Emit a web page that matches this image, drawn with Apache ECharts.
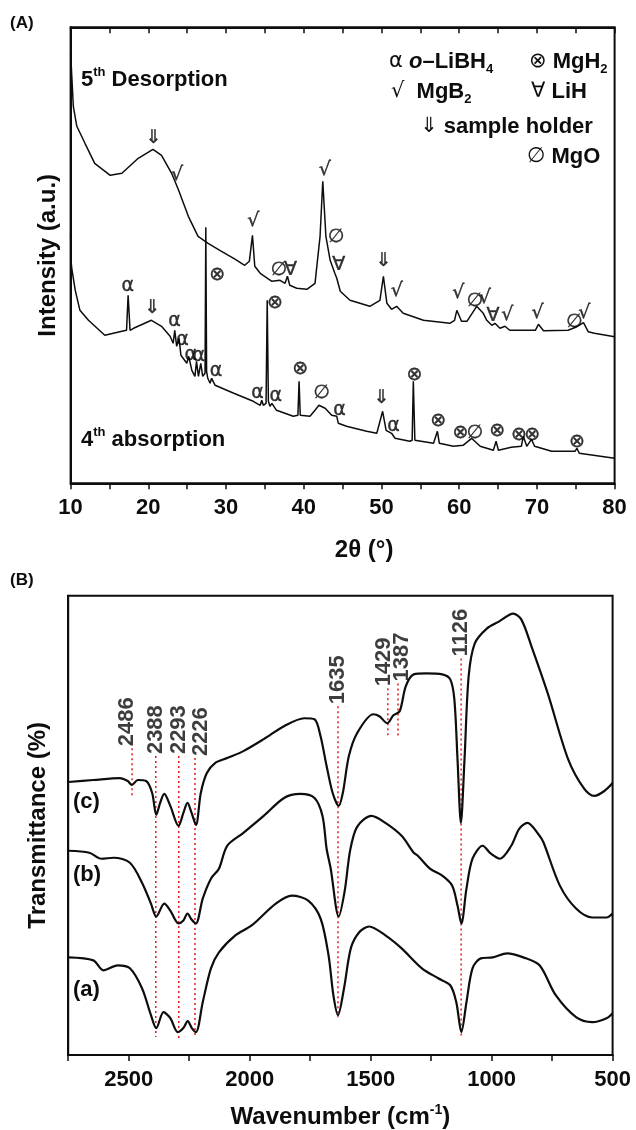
<!DOCTYPE html>
<html><head><meta charset="utf-8">
<script src="https://cdn.jsdelivr.net/npm/echarts@6/dist/echarts.min.js"></script>
<style>html,body{margin:0;padding:0;background:#fff}#c{width:636px;height:1130px}</style>
</head><body><div id="c"></div>
<script>
// ---------- (A) XRD data: [2theta, intensity a.u.] ----------
const xrdDesorption = [[10.0,430],[10.05,423],[10.35,377],[10.8,357],[11.85,340],[13.1,320],[15.1,308],[16.6,310],[18.7,325],[20.6,334],[21.7,328],[23.0,310],[23.9,293],[25.15,267],[26.4,247],[27.7,240],[29.2,233],[31.2,224],[32.4,218],[33.0,222],[33.4,248],[33.7,217],[34.4,210],[35.9,202],[36.95,203],[37.6,200],[37.9,207],[38.2,198],[39.1,195],[40.4,194],[41.45,200],[42.1,247],[42.45,302],[42.85,247],[43.4,223],[44.0,210],[44.25,205],[44.7,192],[45.95,183],[48.5,177],[49.8,183],[50.25,207],[50.7,180],[51.3,174],[51.95,177],[52.8,170],[55.4,163],[58.8,160],[59.4,163],[59.7,173],[60.3,162],[61.0,162],[62.25,177],[63.1,170],[63.55,163],[64.2,158],[64.6,160],[65.25,155],[65.9,157],[66.5,153],[68.25,153],[69.8,153],[70.2,159],[70.85,152.6],[74.0,153],[75.0,156],[76.0,160.6],[76.6,151.6],[77.4,150],[80,146.6]];
const xrdAbsorption = [[10.0,250],[10.05,223],[10.15,215],[10.6,193],[11.2,173],[12.3,163],[14.4,148],[16.6,152],[17.2,153],[17.4,188],[17.65,153],[18.1,155],[20.4,163],[21.7,157],[22.8,147],[23.2,140],[23.4,153],[23.65,137],[23.95,145],[24.2,128],[24.95,120],[25.2,127],[25.6,113],[26.0,107],[26.2,122],[26.45,107],[26.75,120],[27.0,107],[27.3,110],[27.4,256],[27.5,112],[27.65,105],[27.95,100],[28.15,105],[28.6,98],[31.0,90],[33.5,82],[34.4,78],[34.6,83],[34.8,78],[35.15,80],[35.3,183],[35.45,82],[35.65,77],[35.9,80],[36.5,73],[38.65,67],[39.25,68],[39.4,102],[39.55,68],[39.75,67],[40.8,67],[41.45,73],[41.95,78],[42.75,75],[43.6,68],[44.25,67],[44.45,60],[45.5,57],[48.1,52],[49.4,50],[50.15,72],[50.6,53],[51.3,50],[51.75,45],[53.65,42],[53.95,43],[54.1,102],[54.3,43],[54.45,42],[56.7,40],[57.2,52],[57.45,40],[59.25,37],[60.5,38],[61.6,45],[62.7,37],[64.4,33],[64.75,42],[65.05,33],[66.7,36],[68.0,37],[68.25,47],[68.7,37],[69.3,44],[69.7,37],[71.9,32],[74.9,32],[75.15,35],[75.45,30],[80,25]];
// phase markers: [2theta, intensity, symbol]
const xrdMarksDesorption = [[20.65,345,'⇓'],[23.7,308,'√'],[33.5,262,'√'],[36.8,213,'∅'],[38.3,213,'∀'],[42.7,313,'√'],[44.15,246,'∅'],[44.5,218,'∀'],[50.25,222,'⇓'],[51.96,192,'√'],[59.9,190,'√'],[62.0,182,'∅'],[63.3,185,'√'],[64.35,167,'∀'],[66.2,168,'√'],[70.1,170,'√'],[74.8,161,'∅'],[76.1,170,'√']];
const xrdMarksAbsorption = [[17.36,197,'α'],[20.5,175,'⇓'],[23.36,162,'α'],[24.4,143,'α'],[25.45,128,'α'],[26.5,127,'α'],[28.85,208,'⊗'],[28.7,112,'α'],[34.06,90,'α'],[36.3,180,'⊗'],[36.4,87,'α'],[39.55,114,'⊗'],[42.3,90,'∅'],[44.6,73,'α'],[50.0,85,'⇓'],[51.55,57,'α'],[54.25,108,'⊗'],[57.3,62,'⊗'],[60.16,50,'⊗'],[62.0,50,'∅'],[64.9,52,'⊗'],[67.7,48,'⊗'],[69.4,48,'⊗'],[75.15,41,'⊗']];

// ---------- (B) FTIR data: [wavenumber, transmittance (offset, a.u.)] ----------
const ftirC = [[2750,274],[2646,276],[2537,278],[2504,275],[2487,271],[2462,276],[2428,275],[2403,263],[2386,241],[2370,253],[2353,262],[2328,250],[2294,230],[2274,243],[2257,253],[2240,243],[2222,231],[2202,263],[2177,283],[2143,293],[2093,298],[2026,305],[1942,317],[1858,330],[1774,338],[1732,337],[1707,320],[1682,290],[1657,263],[1632,250],[1615,263],[1590,300],[1556,323],[1489,342],[1464,340],[1431,333],[1406,341],[1380,345],[1355,370],[1322,382],[1271,383],[1204,382],[1171,377],[1154,357],[1141,297],[1127,233],[1112,297],[1095,380],[1070,413],[1020,428],[970,435],[911,443],[877,437],[835,410],[768,363],[684,297],[617,267],[576,260],[534,265],[500,273]];
const ftirB = [[2750,205],[2663,203],[2613,197],[2562,198],[2495,193],[2445,173],[2408,152],[2386,139],[2353,152],[2328,145],[2294,132],[2274,135],[2257,142],[2240,136],[2222,132],[2194,157],[2160,177],[2127,187],[2093,210],[2026,223],[1942,240],[1858,258],[1791,262],[1732,258],[1699,240],[1682,207],[1665,187],[1632,139],[1607,165],[1585,205],[1556,229],[1497,240],[1439,233],[1372,220],[1322,203],[1305,200],[1255,187],[1204,180],[1163,170],[1141,150],[1125,132],[1104,167],[1079,197],[1037,210],[1003,202],[966,197],[919,210],[886,227],[852,233],[802,220],[785,213],[718,170],[651,147],[584,138],[525,138],[500,142]];
const ftirA = [[2750,98],[2646,95],[2605,85],[2546,90],[2495,87],[2445,67],[2408,40],[2386,27],[2356,43],[2328,37],[2297,23],[2274,27],[2256,34],[2239,27],[2222,23],[2194,53],[2160,87],[2127,103],[2059,120],[1992,130],[1892,152],[1825,160],[1758,155],[1707,137],[1674,100],[1654,60],[1635,40],[1610,67],[1582,107],[1548,123],[1506,129],[1439,120],[1372,107],[1288,87],[1221,77],[1171,70],[1146,53],[1125,23],[1104,53],[1079,87],[1045,97],[995,98],[936,102],[869,98],[802,90],[735,60],[651,38],[584,33],[525,37],[500,42]];
const bandWavenumbers = [2486, 2388, 2293, 2226, 1635, 1429, 1387, 1126];
const bandTop = [308, 300, 300, 298, 350, 368, 373, 398];
const bandBottom = [260, 18, 17, 17, 38, 318, 320, 17];
const xrdTickLabels = [10, 20, 30, 40, 50, 60, 70, 80];
const ftirTickLabels = [500, 1000, 1500, 2000, 2500];

// ---------- styling ----------
const INK = '#0d0d0d';
const FONT = 'Liberation Sans, Arial, sans-serif';
const SYM = 'DejaVu Sans, sans-serif';
const bandLabelShift = [-5, 0, 0, 6, 0, -4, 4, 0];   // horizontal nudge of band labels (px)

const chart = echarts.init(document.getElementById('c'), null, {renderer: 'canvas'});

const axisLineStyle = {lineStyle: {color: INK, width: 2}};
const tickLabel = {fontSize: 22, fontWeight: 'bold', fontFamily: FONT, color: INK};

const series = [
  {type: 'line', xAxisIndex: 0, yAxisIndex: 0, data: xrdDesorption, showSymbol: false, lineStyle: {color: INK, width: 1.5}, silent: true, z: 3},
  {type: 'line', xAxisIndex: 0, yAxisIndex: 0, data: xrdAbsorption, showSymbol: false, lineStyle: {color: INK, width: 1.5}, silent: true, z: 3},
  {type: 'scatter', xAxisIndex: 0, yAxisIndex: 0, data: xrdMarksDesorption.concat(xrdMarksAbsorption), symbolSize: 1,
    itemStyle: {color: 'rgba(0,0,0,0)'},
    label: {show: true, position: 'inside', formatter: p => p.value[2], fontSize: 19, fontFamily: SYM, color: '#000',
      textBorderColor: '#000', textBorderWidth: 0.4}, z: 4},
  {type: 'line', xAxisIndex: 2, yAxisIndex: 1, data: ftirC, showSymbol: false, smooth: 0.3, lineStyle: {color: INK, width: 2.2}, z: 3},
  {type: 'line', xAxisIndex: 2, yAxisIndex: 1, data: ftirB, showSymbol: false, smooth: 0.3, lineStyle: {color: INK, width: 2.2}, z: 3},
  {type: 'line', xAxisIndex: 2, yAxisIndex: 1, data: ftirA, showSymbol: false, smooth: 0.3, lineStyle: {color: INK, width: 2.2}, z: 3}
];
bandWavenumbers.forEach((w, i) => {
  series.push({type: 'line', xAxisIndex: 2, yAxisIndex: 1, data: [[w, bandTop[i]], [w, bandBottom[i]]], showSymbol: false,
    lineStyle: {color: '#e8191c', width: 1.5, type: [2, 3]}, z: 2});
  series.push({type: 'scatter', xAxisIndex: 2, yAxisIndex: 1, data: [[w, bandTop[i], String(w)]], symbolSize: 1,
    itemStyle: {color: 'rgba(0,0,0,0)'},
    label: {show: true, position: 'inside', formatter: p => p.value[2], rotate: 90, align: 'left', verticalAlign: 'middle',
      offset: [2, bandLabelShift[i]], fontSize: 22, fontWeight: 'bold', fontFamily: FONT, color: INK}, z: 4});
});

const rich = {
  b: {fontSize: 22, fontWeight: 'bold', fontFamily: FONT, color: INK, lineHeight: 28},
  i: {fontSize: 22, fontWeight: 'bold', fontStyle: 'italic', fontFamily: FONT, color: INK, lineHeight: 28},
  s: {fontSize: 21, fontFamily: SYM, color: '#000', lineHeight: 28},
  sup: {fontSize: 13, fontWeight: 'bold', fontFamily: FONT, color: INK, verticalAlign: 'top', lineHeight: 20},
  sub: {fontSize: 13, fontWeight: 'bold', fontFamily: FONT, color: INK, verticalAlign: 'bottom', lineHeight: 18}
};
function txt(x, y, text, extra) {
  return Object.assign({type: 'text', x: x, y: y, z: 10,
    style: {text: text, rich: rich, fill: INK, font: 'bold 22px ' + FONT, align: 'left', verticalAlign: 'middle', textAlign: 'left', textVerticalAlign: 'middle'}}, extra || {});
}

const option = {
  backgroundColor: '#fff',
  animation: false,
  grid: [
    {left: 70.6, top: 27.3, width: 544, height: 456, show: true, borderColor: INK, borderWidth: 2, backgroundColor: 'transparent'},
    {left: 68.2, top: 595.7, width: 544.4, height: 461, show: true, borderColor: INK, borderWidth: 2, backgroundColor: 'transparent'}
  ],
  xAxis: [
    {gridIndex: 0, type: 'value', min: 10, max: 80, interval: 5, axisLine: axisLineStyle,
      axisTick: {show: true, length: 6, lineStyle: {color: INK, width: 1.5}},
      axisLabel: Object.assign({margin: 14, formatter: v => xrdTickLabels.includes(v) ? String(v) : ''}, tickLabel),
      splitLine: {show: false},
      name: '2θ (°)', nameLocation: 'middle', nameGap: 55,
      nameTextStyle: {fontSize: 24, fontWeight: 'bold', fontFamily: FONT, color: INK, padding: [0, 0, 0, 43]}},
    {gridIndex: 0, type: 'value', position: 'top', min: 10, max: 80, interval: 5, axisLine: axisLineStyle,
      axisTick: {show: true, inside: true, length: 6, lineStyle: {color: INK, width: 1.5}},
      axisLabel: {show: false}, splitLine: {show: false}},
    {gridIndex: 1, type: 'value', min: 500, max: 2750, interval: 250, inverse: true, axisLine: axisLineStyle,
      axisTick: {show: true, length: 6, lineStyle: {color: INK, width: 1.5}},
      axisLabel: Object.assign({margin: 14, formatter: v => ftirTickLabels.includes(v) ? String(v) : ''}, tickLabel),
      splitLine: {show: false},
      name: '{a|Wavenumber (cm}{s|-1}{a|)}', nameLocation: 'middle', nameGap: 48,
      nameTextStyle: {rich: {a: {fontSize: 24, fontWeight: 'bold', fontFamily: FONT, color: INK, lineHeight: 28},
        s: {fontSize: 14, fontWeight: 'bold', fontFamily: FONT, color: INK, verticalAlign: 'top', lineHeight: 20}}}}
  ],
  yAxis: [
    {gridIndex: 0, type: 'value', min: 0, max: 456, axisLine: {show: true, lineStyle: {color: INK, width: 2}},
      axisTick: {show: false}, axisLabel: {show: false}, splitLine: {show: false},
      name: 'Intensity (a.u.)', nameLocation: 'middle', nameGap: 10, nameRotate: 90,
      nameTextStyle: {fontSize: 24, fontWeight: 'bold', fontFamily: FONT, color: INK}},
    {gridIndex: 1, type: 'value', min: 0, max: 461, axisLine: {show: true, lineStyle: {color: INK, width: 2}},
      axisTick: {show: false}, axisLabel: {show: false}, splitLine: {show: false},
      name: 'Transmittance (%)', nameLocation: 'middle', nameGap: 18, nameRotate: 90,
      nameTextStyle: {fontSize: 24, fontWeight: 'bold', fontFamily: FONT, color: INK}}
  ],
  graphic: [
    txt(10, 23, '(A)', {style: {text: '(A)', fill: INK, font: 'bold 17px ' + FONT, textVerticalAlign: 'middle', verticalAlign: 'middle'}}),
    txt(10, 580, '(B)', {style: {text: '(B)', fill: INK, font: 'bold 17px ' + FONT, textVerticalAlign: 'middle', verticalAlign: 'middle'}}),
    txt(81, 80, '{b|5}{sup|th}{b| Desorption}'),
    txt(81, 440, '{b|4}{sup|th}{b| absorption}'),
    txt(389, 62, '{s|α} {i|o}{b|–LiBH}{sub|4}'),
    txt(529, 62, '{s|⊗} {b|MgH}{sub|2}'),
    txt(391, 92, '{s|√}  {b|MgB}{sub|2}'),
    txt(531, 92, '{s|∀} {b|LiH}'),
    txt(420, 127, '{s|⇓} {b|sample holder}'),
    txt(527, 157, '{s|∅} {b|MgO}'),
    txt(73, 802, '{b|(c)}'),
    txt(73, 875, '{b|(b)}'),
    txt(73, 990, '{b|(a)}')
  ],
  series: series
};
chart.setOption(option);
</script>
</body></html>
